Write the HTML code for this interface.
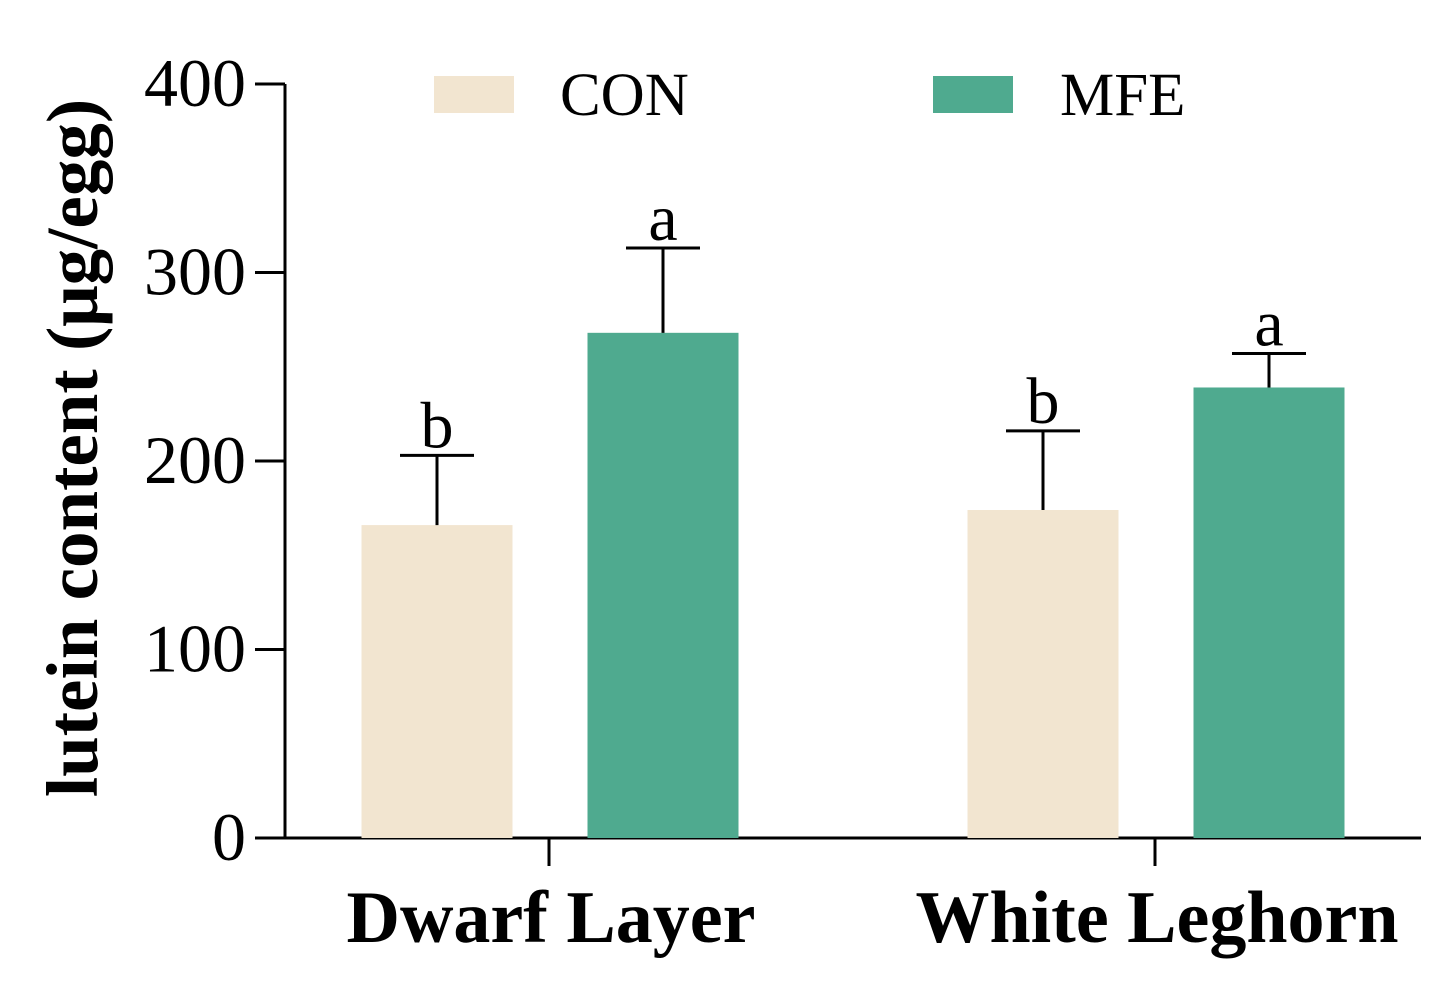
<!DOCTYPE html>
<html><head><meta charset="utf-8"><style>
html,body{margin:0;padding:0;background:#fff;}
svg{display:block;font-family:"Liberation Serif",serif;}
</style></head><body>
<svg id="chart" width="1454" height="984">
<g id="axes"></g><g id="bars"></g><g id="legend"></g>
<text transform="translate(97,448) rotate(-90)" text-anchor="middle" font-size="73" font-weight="bold">lutein content (μg/egg)</text>
</svg>
<script>
const categories = ["Dwarf Layer","White Leghorn"];
const seriesNames = ["CON","MFE"];
const conValues = [166, 174];
const mfeValues = [268, 239];
const conErrors = [37, 42];
const mfeErrors = [45, 18];
const conLetters = ["b","b"];
const mfeLetters = ["a","a"];
const yTicks = [0,100,200,300,400];

const NS="http://www.w3.org/2000/svg";
const colors=["#f2e5d0","#4faa8f"];
function y(v){return 838-(v/400)*754;}
const catCenters=[549,1155];
function el(tag,attrs,parent,text){const e=document.createElementNS(NS,tag);for(const k in attrs)e.setAttribute(k,attrs[k]);if(text!==undefined)e.textContent=text;parent.appendChild(e);return e;}
const axes=document.getElementById('axes'),bars=document.getElementById('bars'),legend=document.getElementById('legend');
let a=el('line',{x1:285,y1:y(400),x2:285,y2:839.5,stroke:'#000','stroke-width':3},axes);


a=el('line',{x1:255,y1:838,x2:1421,y2:838,stroke:'#000','stroke-width':3},axes);


yTicks.forEach(t=>{
 let l=el('line',{x1:255,y1:y(t),x2:285,y2:y(t),stroke:'#000','stroke-width':3},axes);
 
 
 let tx=el('text',{x:246,y:y(t)+22,'text-anchor':'end','font-size':68},axes,String(t));
 
 
});
categories.forEach((c,i)=>{
 let l=el('line',{x1:catCenters[i],y1:838,x2:catCenters[i],y2:866,stroke:'#000','stroke-width':3},axes);
 
 
 let tx=el('text',{x:catCenters[i]+2,y:942,'text-anchor':'middle','font-size':74,'font-weight':'bold'},axes,c);
 
 
});
const vals=[conValues,mfeValues],errs=[conErrors,mfeErrors],lets=[conLetters,mfeLetters];
const offsets=[-112,114],bw=151;
categories.forEach((c,i)=>{
 [0,1].forEach(s=>{
  const cx=catCenters[i]+offsets[s],v=vals[s][i],e=errs[s][i];
  let r=el('rect',{x:cx-bw/2,y:y(v),width:bw,height:838-y(v),fill:colors[s]},bars);
  
  
  let eb=el('path',{d:`M${cx},${y(v)}V${y(v+e)}M${cx-37},${y(v+e)}H${cx+37}`,stroke:'#000','stroke-width':3,fill:'none'},bars);
  
  
  let lt=el('text',{x:cx,y:y(v+e)-8,'text-anchor':'middle','font-size':66},bars,lets[s][i]);
  
  
 });
});
const lx=[434,933],tx=[560,1060];
seriesNames.forEach((n,s)=>{
 let r=el('rect',{x:lx[s],y:76,width:80,height:37,fill:colors[s]},legend);
 
 
 let t=el('text',{x:tx[s],y:115,'font-size':61},legend,n);
 
 
});
</script>
</body></html>
